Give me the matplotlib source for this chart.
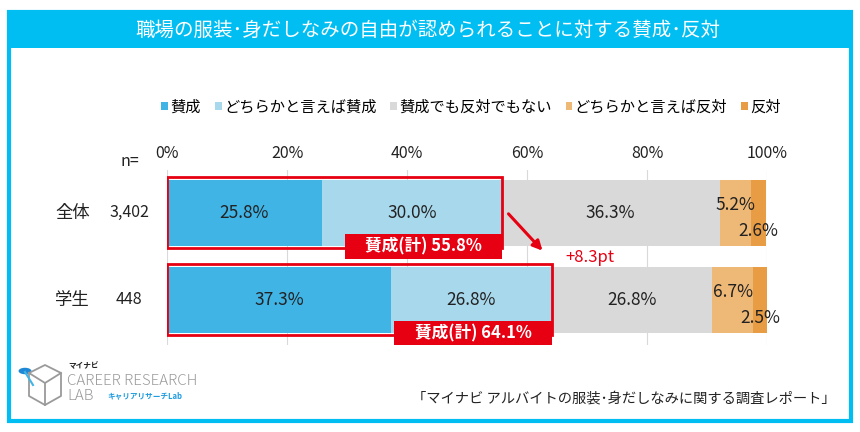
import matplotlib
matplotlib.use('Agg')
import matplotlib.pyplot as plt
from matplotlib.patches import Rectangle, Patch, Circle
import numpy as np

plt.rcParams['font.family'] = ['Noto Sans CJK JP', 'DejaVu Sans']

title = '職場の服装･身だしなみの自由が認められることに対する賛成･反対'
categories = ['全体', '学生']
n_labels = ['3,402', '448']
series = ['賛成', 'どちらかと言えば賛成', '賛成でも反対でもない', 'どちらかと言えば反対', '反対']
values = [
    [25.8, 30.0, 36.3, 5.2, 2.6],
    [37.3, 26.8, 26.8, 6.7, 2.5],
]
totals = ['賛成(計) 55.8%', '賛成(計) 64.1%']
diff_label = '+8.3pt'
ticks = [0, 20, 40, 60, 80, 100]
source = '「マイナビ アルバイトの服装･身だしなみに関する調査レポート」'

colors = ['#41B4E6', '#A8D8EC', '#D9D9D9', '#EEB877', '#E89C44']
cyan = '#00BEF2'
red = '#E60012'
txt = '#222222'

W, H = 860, 432
fig = plt.figure(figsize=(W / 100, H / 100), dpi=100)

def fx(px):
    return px / W

def fy(py):
    return 1 - py / H

# frame and title bar
fig.patches.append(Rectangle((fx(9), fy(421)), fx(842), (421 - 12) / H, transform=fig.transFigure,
                             fill=False, edgecolor=cyan, lw=3))
fig.patches.append(Rectangle((fx(9), fy(48)), fx(842), 36 / H, transform=fig.transFigure,
                             facecolor=cyan, edgecolor='none'))
fig.text(fx(428), fy(30), title, color='white', fontsize=14, ha='center', va='center')

# chart axes
ax = fig.add_axes([fx(167), fy(345), fx(600), 175 / H])
bar_h = 0.76
ypos = np.arange(len(categories))
for i, row in enumerate(values):
    left = 0
    for j, v in enumerate(row):
        ax.barh(ypos[i], v, left=left, height=bar_h, color=colors[j], edgecolor='none', zorder=2)
        cx = left + v / 2
        if j < 3:
            ty = ypos[i]
        elif j == 3:
            ty = ypos[i] - 0.09
        else:
            ty = ypos[i] + 0.21
        ax.text(cx, ty, f'{v:.1f}%', ha='center', va='center', fontsize=12.5, color=txt, zorder=5)
        left += v

    agree = row[0] + row[1]
    ax.add_patch(Rectangle((0, ypos[i] - bar_h / 2 - 0.025), agree, bar_h + 0.05,
                           fill=False, edgecolor=red, lw=2, zorder=6))
    # label box for the agree total
    ax.add_patch(Rectangle((agree - 26.2, ypos[i] + 0.24), 26.2, 0.29,
                           facecolor=red, edgecolor='none', zorder=7))
    ax.text(agree - 13.1, ypos[i] + 0.385, totals[i], ha='center', va='center',
            fontsize=12, color='white', fontweight='bold', zorder=8)

agree0 = values[0][0] + values[0][1]
agree1 = values[1][0] + values[1][1]
ax.annotate('', xy=(agree1 - 1.2, ypos[0] + 0.46), xytext=(agree0 + 0.8, ypos[0] - 0.01),
            arrowprops=dict(arrowstyle='-|>', color=red, lw=2.2, mutation_scale=14), zorder=8)
ax.text(agree1 + 2.3, ypos[0] + 0.51, diff_label, ha='left', va='center', color=red, fontsize=12)

ax.set_xlim(0, 100)
ax.set_ylim(1.52, -0.49)
ax.set_xticks(ticks)
ax.set_xticklabels([f'{t}%' for t in ticks], fontsize=11.5, color=txt)
ax.xaxis.tick_top()
ax.tick_params(axis='x', length=0, pad=6)
ax.set_yticks([])
ax.grid(axis='x', color='#D9D9D9', lw=0.8, zorder=0)
for s in ax.spines.values():
    s.set_visible(False)

# category labels and n
for i, c in enumerate(categories):
    ax.text(-15.7, ypos[i], c, ha='center', va='center', fontsize=12.5, color=txt)
    ax.text(-6.3, ypos[i], n_labels[i], ha='center', va='center', fontsize=11.5, color=txt)
fig.text(fx(130), fy(162), 'n=', ha='center', va='center', fontsize=11.5, color=txt)

# legend
handles = [Patch(facecolor=c, edgecolor='none') for c in colors]
fig.legend(handles, series, loc='center', bbox_to_anchor=(fx(471), fy(107)), ncol=5, frameon=False,
           fontsize=11, handlelength=0.45, handleheight=0.45, handletextpad=0.15, columnspacing=0.9)

# source
fig.text(fx(836), fy(398), source, ha='right', va='center', fontsize=10.3, color=txt)

# logo
lg = '#9A9A9A'
fig.lines.append(plt.Line2D([fx(29), fx(45), fx(61), fx(61), fx(45), fx(29), fx(29)],
                            [fy(373), fy(365), fy(373), fy(396), fy(405), fy(396), fy(373)],
                            transform=fig.transFigure, color=lg, lw=1.3))
fig.lines.append(plt.Line2D([fx(29), fx(45), fx(61)], [fy(373), fy(383), fy(373)],
                            transform=fig.transFigure, color=lg, lw=1.3))
fig.lines.append(plt.Line2D([fx(45), fx(45)], [fy(383), fy(405)],
                            transform=fig.transFigure, color=lg, lw=1.3))
fig.lines.append(plt.Line2D([fx(25), fx(33)], [fy(372), fy(385)],
                            transform=fig.transFigure, color='#41B4E6', lw=1.5))
fig.patches.append(Circle((fx(25), fy(371)), 0.0075, transform=fig.transFigure,
                          facecolor='#1E88D6', edgecolor='none'))
fig.text(fx(68), fy(366), 'マイナビ', fontsize=5.5, fontweight='bold', color=txt, va='center')
fig.text(fx(67), fy(381), 'CAREER RESEARCH', fontsize=10.8, color=lg, va='center', fontweight='light')
fig.text(fx(67), fy(396), 'LAB', fontsize=10.8, color=lg, va='center', fontweight='light')
fig.text(fx(107), fy(396), 'キャリアリサーチLab', fontsize=5.5, color='#1E9CE0', va='center', fontweight='bold')

fig.savefig('out.png', dpi=100)
